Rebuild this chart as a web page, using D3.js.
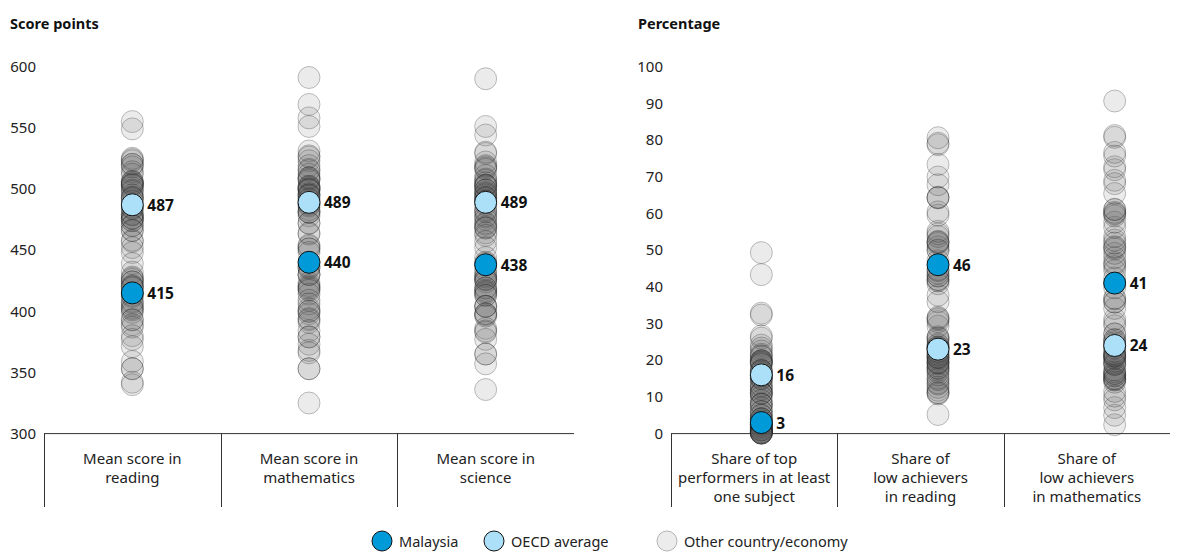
<!DOCTYPE html>
<html>
<head>
<meta charset="utf-8">
<script src="https://cdn.jsdelivr.net/npm/d3@7"></script>
<style>
  body { margin: 0; background: #fff; }
  svg { font-family: "Noto Sans", "Open Sans", sans-serif; }
</style>
</head>
<body>
<div id="chart"></div>
<script>
var scoreCategories = ["Mean score in|reading", "Mean score in|mathematics", "Mean score in|science"];
var shareCategories = ["Share of top|performers in at least|one subject", "Share of|low achievers|in reading", "Share of|low achievers|in mathematics"];

var scoreTicks = [300, 350, 400, 450, 500, 550, 600];
var shareTicks = [0, 10, 20, 30, 40, 50, 60, 70, 80, 90, 100];

var malaysiaScores = [415, 440, 438];
var oecdScores = [487, 489, 489];
var malaysiaShares = [3, 46, 41];
var oecdShares = [16, 23, 24];

var otherReading = [555, 549, 525, 524, 523, 520, 520, 518, 514, 512, 506, 506, 505, 504, 504, 503, 503, 501, 499, 498,
  495, 493, 493, 492, 490, 485, 484, 484, 479, 479, 479, 476, 476, 476, 474, 474, 470, 470, 466, 466, 458, 457, 452,
  448, 439, 432, 428, 427, 426, 424, 424, 421, 420, 420, 419, 413, 412, 408, 407, 405, 403, 402, 401, 399, 393, 393,
  389, 387, 380, 377, 371, 359, 353, 353, 342, 340];
var otherMath = [591, 569, 558, 551, 531, 527, 526, 523, 519, 516, 515, 512, 509, 509, 508, 507, 502, 502, 501, 500,
  500, 499, 499, 496, 495, 495, 494, 492, 491, 488, 487, 486, 483, 481, 481, 481, 478, 472, 472, 464, 463, 454, 453,
  451, 451, 448, 437, 436, 435, 430, 430, 430, 423, 421, 420, 419, 418, 417, 414, 409, 406, 402, 400, 400, 398, 394,
  393, 391, 384, 379, 379, 373, 368, 366, 353, 353, 325];
var otherScience = [590, 551, 544, 530, 529, 522, 519, 518, 517, 516, 511, 508, 507, 505, 503, 503, 503, 502, 499, 499,
  497, 496, 495, 493, 493, 492, 490, 490, 487, 483, 482, 481, 478, 477, 475, 472, 471, 469, 468, 468, 464, 462, 457,
  452, 444, 440, 439, 434, 431, 429, 428, 426, 426, 426, 424, 419, 419, 417, 416, 415, 413, 413, 404, 404, 404, 398,
  398, 397, 396, 386, 384, 383, 377, 365, 365, 357, 336];
var otherTop = [49.3, 43.3, 32.8, 32.3, 26.6, 26.0, 24.1, 23.3, 22.5, 21.6, 21.2, 21.0, 19.9, 19.8, 19.8, 19.5, 19.4,
  19.1, 18.9, 17.3, 17.1, 17.0, 16.6, 15.9, 15.8, 15.4, 15.0, 15.0, 15.0, 14.0, 13.0, 12.9, 12.2, 12.0, 11.0, 11.0, 11.0,
  11.0, 10.0, 9.0, 8.0, 8.0, 8.0, 7.0, 6.0, 6.0, 5.0, 5.0, 4.0, 4.0, 4.0, 3.5, 3.0, 2.7, 2.5, 2.5, 2.5, 2.4, 2.0, 2.0,
  1.7, 1.7, 1.3, 1.0, 1.0, 1.0, 1.0, 1.0, 0.6, 0.5, 0.4, 0.3, 0.2, 0.2, 0.2, 0.1, 0.1];
var otherLowReading = [5.2, 10.8, 11.1, 11.2, 11.8, 12.6, 13.5, 13.8, 14.7, 15.1, 16.0, 16.8, 17.3, 17.8, 17.9, 18.4,
  19.0, 19.3, 19.3, 19.6, 20.2, 20.7, 20.7, 20.9, 21.3, 21.6, 22.1, 22.4, 23.3, 23.4, 23.6, 23.6, 24.1, 24.4, 25.3, 25.9,
  26.1, 26.4, 29.3, 30.5, 31.1, 31.4, 31.7, 35.9, 37.7, 40.8, 41.6, 41.9, 42.0, 42.9, 43.0, 43.7, 44.4, 44.7, 47.1, 49.9,
  50.0, 50.9, 51.8, 52.1, 52.2, 52.4, 53.7, 54.4, 55.1, 59.5, 60.4, 64.2, 64.3, 64.4, 67.8, 69.9, 73.3, 78.7, 79.1, 80.6];
var otherLowMath = [2.4, 5.0, 7.1, 9.2, 10.2, 11.5, 14.0, 14.6, 14.7, 15.0, 15.0, 15.7, 15.8, 16.3, 16.4, 16.8, 17.3,
  18.8, 18.9, 19.2, 19.7, 20.4, 20.7, 21.1, 21.1, 21.3, 21.6, 21.8, 22.4, 23.3, 23.8, 24.7, 25.1, 25.6, 25.6, 27.1, 27.2,
  29.4, 30.2, 31.2, 34.1, 35.8, 35.9, 36.7, 36.9, 39.7, 42.4, 44.4, 45.5, 46.2, 46.6, 47.9, 49.1, 50.3, 50.7, 50.9, 51.9,
  52.7, 53.7, 56.2, 57.6, 59.3, 59.8, 60.0, 60.3, 61.0, 61.1, 65.4, 68.1, 69.0, 71.9, 72.7, 75.6, 76.6, 80.7, 81.2, 90.6];

var otherScores = [otherReading, otherMath, otherScience];
var otherShares = [otherTop, otherLowReading, otherLowMath];

var malaysiaColor = "#009ad8";
var oecdColor = "#abe0f8";
var r = 11;

var svg = d3.select("#chart")
  .append("svg")
  .attr("width", 1195)
  .attr("height", 552);

// one panel: axis, category boxes, dots, labels
function drawPanel(opts) {
  var y = d3.scaleLinear().domain(opts.domain).range([433.6, 66.5]);
  var xBox = d3.scaleBand().domain(d3.range(3)).range(opts.boxRange);
  var xDot = d3.scaleBand().domain(d3.range(3)).range(opts.dotRange);

  var g = svg.append("g");

  g.append("text")
    .attr("x", opts.titleX)
    .attr("y", 29)
    .style("font-size", "14.5px")
    .style("font-weight", "bold")
    .style("fill", "#111")
    .text(opts.title);

  var axis = g.append("g")
    .attr("transform", "translate(" + opts.axisX + ",0)")
    .call(d3.axisLeft(y).tickValues(opts.ticks).tickSize(0).tickPadding(0));
  axis.select(".domain").remove();
  axis.selectAll("text")
    .style("font-family", "'Noto Sans', 'Open Sans', sans-serif")
    .style("font-size", "15px")
    .style("fill", "#222");

  g.append("line")
    .attr("x1", opts.boxRange[0]).attr("x2", opts.boxRange[1])
    .attr("y1", y(opts.domain[0])).attr("y2", y(opts.domain[0]))
    .style("stroke", "#333");

  g.selectAll(".sep")
    .data(d3.range(3))
    .enter()
    .append("line")
    .attr("x1", function(d) { return Math.round(xBox(d)) + 0.5; })
    .attr("x2", function(d) { return Math.round(xBox(d)) + 0.5; })
    .attr("y1", y(opts.domain[0]))
    .attr("y2", 507)
    .style("stroke", "#333");

  var labels = g.selectAll(".cat")
    .data(opts.categories)
    .enter()
    .append("text")
    .attr("text-anchor", "middle")
    .style("font-size", "15px")
    .style("fill", "#222");
  labels.each(function(d, i) {
    var t = d3.select(this);
    d.split("|").forEach(function(line, j) {
      t.append("tspan")
        .attr("x", xBox(i) + xBox.bandwidth() / 2)
        .attr("y", 464 + j * 19)
        .text(line);
    });
  });

  opts.others.forEach(function(vals, i) {
    g.append("g")
      .selectAll("circle")
      .data(vals)
      .enter()
      .append("circle")
      .attr("cx", xDot(i) + xDot.bandwidth() / 2)
      .attr("cy", function(d) { return y(d); })
      .attr("r", r)
      .style("fill", "#5a5a5a")
      .style("fill-opacity", 0.12)
      .style("stroke", "#222")
      .style("stroke-opacity", 0.28);
  });

  [[opts.oecd, oecdColor], [opts.malaysia, malaysiaColor]].forEach(function(s) {
    g.append("g")
      .selectAll("circle")
      .data(s[0])
      .enter()
      .append("circle")
      .attr("cx", function(d, i) { return xDot(i) + xDot.bandwidth() / 2; })
      .attr("cy", function(d) { return y(d); })
      .attr("r", r)
      .style("fill", s[1])
      .style("stroke", "#111")
      .style("stroke-width", 1);

    g.append("g")
      .selectAll("text")
      .data(s[0])
      .enter()
      .append("text")
      .attr("x", function(d, i) { return xDot(i) + xDot.bandwidth() / 2 + 15; })
      .attr("y", function(d) { return y(d) + 6; })
      .style("font-size", "15.5px")
      .style("font-weight", "bold")
      .style("fill", "#111")
      .text(function(d) { return d; });
  });
}

drawPanel({
  title: "Score points", titleX: 10, axisX: 36,
  domain: [300, 600], ticks: scoreTicks,
  boxRange: [44, 574], dotRange: [44, 574],
  categories: scoreCategories, others: otherScores,
  malaysia: malaysiaScores, oecd: oecdScores
});

drawPanel({
  title: "Percentage", titleX: 638, axisX: 663,
  domain: [0, 100], ticks: shareTicks,
  boxRange: [671, 1170], dotRange: [673, 1203],
  categories: shareCategories, others: otherShares,
  malaysia: malaysiaShares, oecd: oecdShares
});

// legend
var legendItems = [
  { label: "Malaysia", fill: malaysiaColor, stroke: "#111", x: 382 },
  { label: "OECD average", fill: oecdColor, stroke: "#111", x: 494 },
  { label: "Other country/economy", fill: "#ececec", stroke: "#b5b5b5", x: 667 }
];
var legend = svg.append("g")
  .selectAll("g")
  .data(legendItems)
  .enter()
  .append("g")
  .attr("transform", function(d) { return "translate(" + d.x + ",541)"; });
legend.append("circle")
  .attr("r", 10)
  .style("fill", function(d) { return d.fill; })
  .style("stroke", function(d) { return d.stroke; });
legend.append("text")
  .attr("x", 17)
  .attr("y", 5.5)
  .style("font-size", "14.5px")
  .style("fill", "#222")
  .text(function(d) { return d.label; });
</script>
</body>
</html>
